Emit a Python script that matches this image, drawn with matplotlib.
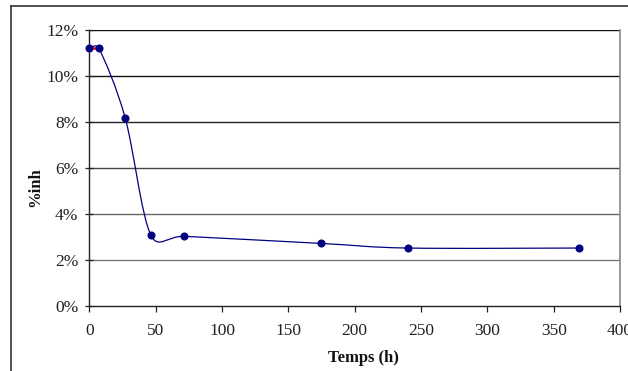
import numpy as np
import matplotlib
matplotlib.use("Agg")
import matplotlib.pyplot as plt
from matplotlib.path import Path
from matplotlib.patches import PathPatch
from matplotlib.lines import Line2D
from matplotlib.ticker import FuncFormatter

# Data
temps = [0, 7, 27, 46.5, 71.5, 175, 240, 369]
inh = [0.1123, 0.1123, 0.0819, 0.0307, 0.0303, 0.0272, 0.0252, 0.0252]
red_x = [0, 7]
red_y = [0.1123, 0.1123]
x_ticks = [0, 50, 100, 150, 200, 250, 300, 350, 400]
y_ticks = [0.0, 0.02, 0.04, 0.06, 0.08, 0.10, 0.12]

plt.rcParams['font.family'] = ['Liberation Serif', 'DejaVu Serif']

W, H = 628, 371
AX_L, AX_R, AX_T, AX_B = 89.3, 620.0, 30.0, 306.0
fig = plt.figure(figsize=(W / 100, H / 100), dpi=100)
ax = fig.add_axes([AX_L / W, 1 - AX_B / H, (AX_R - AX_L) / W, (AX_B - AX_T) / H])
ax.set_xlim(0, 400)
ax.set_ylim(0, 0.12)

# smooth curve (Excel-like bezier computed in pixel space)
sx = (AX_R - AX_L) / 400.0
sy = (AX_B - AX_T) / 0.12
pts = np.column_stack([np.array(temps) * sx, np.array(inh) * sy])
n = len(pts)
verts = [tuple(pts[0])]
codes = [Path.MOVETO]
for i in range(n - 1):
    p_prev = pts[i - 1] if i > 0 else pts[i]
    p0 = pts[i]
    p1 = pts[i + 1]
    p_next = pts[i + 2] if i + 2 < n else pts[i + 1]
    dseg = np.linalg.norm(p1 - p0)
    t0 = (p1 - p_prev) / 6.0
    t1 = (p_next - p0) / 6.0
    for t in (t0, t1):
        L = np.linalg.norm(t)
        if L > dseg / 2:
            t *= (dseg / 2) / L
    c1 = p0 + t0
    c2 = p1 - t1
    verts += [tuple(c1), tuple(c2), tuple(p1)]
    codes += [Path.CURVE4] * 3
verts = [(vx / sx, vy / sy) for vx, vy in verts]
ax.add_patch(PathPatch(Path(verts, codes), facecolor='none', edgecolor='#000080', lw=0.9, zorder=3))
ax.plot(red_x, red_y, color='#ff0000', lw=1.8, zorder=4, clip_on=False)
ax.plot(temps, inh, linestyle='none', marker='o', ms=4.8, color='#000080', zorder=5, clip_on=False)

ax.set_xticks(x_ticks)
ax.set_yticks(y_ticks)
ax.yaxis.set_major_formatter(FuncFormatter(lambda v, p: f"{v*100:.0f}%"))
grid_cols = ['#222222', '#777777', '#666666', '#444444', '#222222', '#111111', '#111111']
for yv, gc in zip(y_ticks[1:], grid_cols[1:]):
    ax.axhline(yv, color=gc, lw=1.0, zorder=1)
for s in ['left', 'bottom']:
    ax.spines[s].set_color('#222222')
    ax.spines[s].set_linewidth(1.0)
ax.spines['top'].set_visible(False)
ax.spines['right'].set_color('#888888')
ax.spines['right'].set_linewidth(1.2)
ax.tick_params(axis='both', labelsize=12.5, colors='#222222', length=4, width=0.9)
ax.tick_params(axis='x', pad=8, direction='out')
ax.tick_params(axis='y', pad=5, direction='inout', length=6)

fig.text(363 / W, 1 - 358 / H, 'Temps (h)', fontsize=12, fontweight='bold', ha='center', va='center', color='#111111')
fig.text(35 / W, 1 - 187 / H, '%inh', fontsize=12, fontweight='bold', ha='center', va='center', rotation=90, color='#111111')

# outer frame
fig.add_artist(Line2D([10.5 / W, 10.5 / W], [0, 1 - 5.5 / H], color='#333333', lw=1.2, transform=fig.transFigure))
fig.add_artist(Line2D([10.5 / W, 1], [1 - 5.5 / H, 1 - 5.5 / H], color='#333333', lw=1.2, transform=fig.transFigure))

fig.savefig('out.png', dpi=100)
